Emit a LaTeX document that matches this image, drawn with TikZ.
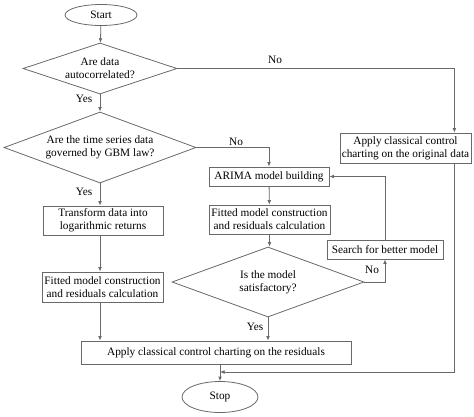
\documentclass[tikz,border=0pt]{standalone}
\usepackage{fontspec}
\setmainfont{Liberation Serif}
\usetikzlibrary{shapes.geometric,arrows.meta}
\definecolor{lc}{RGB}{105,105,105}
\tikzset{
  base/.style={draw=lc, line width=0.8pt, font=\fontsize{11.3}{13}\selectfont, align=center, inner sep=0pt},
  box/.style={base, rectangle},
  dec/.style={base, diamond, aspect=2.7},
  term/.style={base, ellipse},
  conn/.style={draw=lc, line width=0.8pt, -{Latex[length=4.5pt,width=3.8pt]}},
  lab/.style={font=\fontsize{11.3}{13}\selectfont, inner sep=0pt}
}
\begin{document}
\begin{tikzpicture}[x=1pt,y=-1pt]
\useasboundingbox (0,0) rectangle (474,416);
\node[term, minimum width=72pt, minimum height=21pt] (start) at (101,15) {Start};
\node[dec, minimum width=154pt, minimum height=51pt] (d1) at (100,68.5) {Are data\\autocorrelated?};
\node[dec, minimum width=192pt, minimum height=71pt] (d2) at (100,147.5) {Are the time series data\\governed by GBM law?};
\node[box, minimum width=120pt, minimum height=29pt] (trans) at (103,220.5) {Transform data into\\logarithmic returns};
\node[box, minimum width=121pt, minimum height=30pt] (fit1) at (102.5,287) {Fitted model construction\\and residuals calculation};
\node[box, minimum width=270pt, minimum height=23pt] (res) at (216,352.5) {Apply classical control charting on the residuals};
\node[term, minimum width=76pt, minimum height=31pt] (stop) at (220,397) {Stop};
\node[box, minimum width=131pt, minimum height=30pt] (orig) at (405.5,148) {Apply classical control\\charting on the original data};
\node[box, minimum width=120pt, minimum height=19pt] (arima) at (269,176.5) {ARIMA model building};
\node[box, minimum width=121pt, minimum height=29pt] (fit2) at (269.5,219.5) {Fitted model construction\\and residuals calculation};
\node[dec, minimum width=192pt, minimum height=70pt] (d3) at (268,282) {Is the model\\satisfactory?};
\node[box, minimum width=116pt, minimum height=19pt] (search) at (385,249.5) {Search for better model};
\coordinate (j) at (220,372);

\draw[conn] (start) -- (d1);
\draw[conn] (d1) -- (d2);
\draw[conn] (d1.east) -| ([xshift=-17pt]orig.north east);
\draw[conn] (d2.south) -- (d2.south |- trans.north);
\draw[conn] (d2.east) -| (arima.north);
\draw[conn] (d2.south |- trans.south) -- (d2.south |- fit1.north);
\draw[conn] (d2.south |- fit1.south) -- (d2.south |- res.north);
\draw[conn] (arima) -- (fit2);
\draw[conn] (fit2.south) -- (fit2.south |- d3.north);
\draw[conn] (d3.south) -- (d3.south |- res.north);
\draw[conn] (d3.east) -| (search.south);
\draw[conn] (search.north) |- (arima.east);
\draw[conn] (stop.north |- res.south) -- (stop.north);
\draw[conn] ([xshift=-17pt]orig.south east) |- (j);

\node[lab] (no1) at (275,60) {No};
\node[lab] (yes1) at (84,99) {Yes};
\node[lab] (no2) at (236,142) {No};
\node[lab] (yes2) at (84,192) {Yes};
\node[lab] (yes3) at (255,327) {Yes};
\node[lab] (no3) at (372,270) {No};
\end{tikzpicture}
\end{document}
